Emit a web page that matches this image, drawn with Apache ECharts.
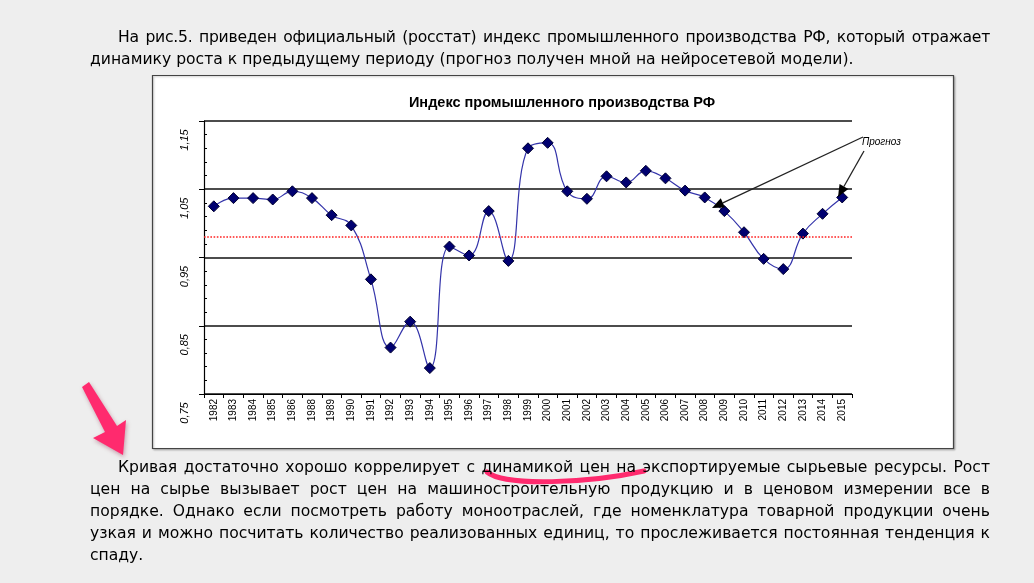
<!DOCTYPE html>
<html>
<head>
<meta charset="utf-8">
<script src="https://cdn.jsdelivr.net/npm/echarts@6/dist/echarts.min.js"></script>
<style>
html, body { margin: 0; padding: 0; background: #eeeeee; }
#page { position: relative; width: 1034px; height: 583px; overflow: hidden; }
#chart { position: absolute; left: 0; top: 0; width: 1034px; height: 583px; }
.ln { position: absolute; left: 90px; width: 900px; height: 22px; line-height: 22px;
      font-family: "DejaVu Sans", sans-serif; font-size: 15.6px; color: #000; white-space: nowrap; }
.j { text-align: justify; text-align-last: justify; }
.ind { left: 118px; width: 872px; }
</style>
</head>
<body>
<div id="page">
	<div id="chart"></div>

	<div class="ln j ind" style="top:26px; letter-spacing:-0.25px">На рис.5. приведен официальный (росстат) индекс промышленного производства РФ, который отражает</div>
	<div class="ln" style="top:48px">динамику роста к предыдущему периоду (прогноз получен мной на нейросетевой модели).</div>

	<div class="ln j ind" style="top:456px">Кривая достаточно хорошо коррелирует с динамикой цен на экспортируемые сырьевые ресурсы. Рост</div>
	<div class="ln j" style="top:478px">цен на сырье вызывает рост цен на машиностроительную продукцию и в ценовом измерении все в</div>
	<div class="ln j" style="top:500px">порядке. Однако если посмотреть работу моноотраслей, где номенклатура товарной продукции очень</div>
	<div class="ln j" style="top:522px">узкая и можно посчитать количество реализованных единиц, то прослеживается постоянная тенденция к</div>
	<div class="ln" style="top:544px">спаду.</div>
</div>

<script>
// годы (подписи оси X как на рисунке)
var years = ['1982', '1983', '1984', '1985', '1986', '1988', '1989', '1990', '1991', '1992', '1993',
	'1994', '1995', '1996', '1997', '1998', '1999', '2000', '2001', '2002', '2003', '2004', '2005',
	'2006', '2007', '2008', '2009', '2010', '2011', '2012', '2013', '2014', '2015'];

// индекс промышленного производства к предыдущему году
var index = [1.025, 1.037, 1.037, 1.035, 1.047, 1.037, 1.012, 0.997, 0.918, 0.818, 0.856,
	0.788, 0.966, 0.953, 1.018, 0.945, 1.110, 1.118, 1.047, 1.036, 1.069, 1.060, 1.077,
	1.066, 1.048, 1.038, 1.018, 0.987, 0.948, 0.933, 0.985, 1.014, 1.038];

// красная пунктирная линия (средний уровень)
var avgLevel = [0.978];

// шкала Y
var yMin = 0.75, yMax = 1.15, yStep = 0.1;

function arrow(x1, y1, x2, y2) {
	var dx = x2 - x1, dy = y2 - y1, l = Math.sqrt(dx * dx + dy * dy);
	var ux = dx / l, uy = dy / l, hl = 12, hw = 5;
	var bx = x2 - ux * hl, by = y2 - uy * hl;
	return [
		{type: 'line', z: 50, shape: {x1: x1, y1: y1, x2: bx, y2: by}, style: {stroke: '#222', lineWidth: 1.3}},
		{type: 'polygon', z: 50, shape: {points: [[x2, y2], [bx - uy * hw, by + ux * hw], [bx + uy * hw, by - ux * hw]]},
			style: {fill: '#000'}}
	];
}

var chart = echarts.init(document.getElementById('chart'));

var graphics = [
	{type: 'rect', z: -10, shape: {x: 152.5, y: 75.5, width: 801, height: 373},
		style: {fill: '#fff', stroke: '#444', lineWidth: 1.2, shadowColor: 'rgba(0,0,0,0.25)', shadowBlur: 2, shadowOffsetX: 1, shadowOffsetY: 1}},
	{type: 'text', z: 50, x: 862, y: 137, style: {text: 'Прогноз', fontFamily: 'Liberation Sans', fontStyle: 'italic', fontSize: 10, fill: '#000'}},
	// розовая стрелка слева
	{type: 'polygon', z: 50, shape: {points: [[82, 387], [89, 382], [117, 426], [126, 420], [123, 455], [93, 438], [105, 432]]},
		style: {fill: '#ff2a6e', shadowColor: 'rgba(120,0,40,0.35)', shadowBlur: 4, shadowOffsetX: 1, shadowOffsetY: 2}},
	// розовое подчеркивание
	{type: 'bezierCurve', z: 50, shape: {x1: 487, y1: 472, cpx1: 505, cpy1: 487, cpx2: 590, cpy2: 483, x2: 644, y2: 471},
		style: {stroke: '#ff2a6e', lineWidth: 5, lineCap: 'round', fill: null}}
].concat(arrow(863, 137, 712, 208), arrow(864, 151, 838, 197));

var option = {
	animation: false,
	backgroundColor: 'transparent',
	title: {
		text: 'Индекс промышленного производства РФ',
		left: 557,
		top: 90,
		textAlign: 'center',
		textStyle: {fontFamily: 'Liberation Sans', fontWeight: 'bold', fontSize: 14.5, color: '#000'}
	},
	grid: {left: 204, top: 121, right: 182, bottom: 189, containLabel: false},
	xAxis: {
		type: 'category',
		data: years,
		boundaryGap: true,
		axisLine: {lineStyle: {color: '#000', width: 1.2}},
		axisTick: {show: true, length: 4, lineStyle: {color: '#000'}},
		axisLabel: {interval: 0, rotate: 90, margin: 5, fontFamily: 'Liberation Sans', fontSize: 10, color: '#000'}
	},
	yAxis: {
		type: 'value',
		min: yMin,
		max: yMax,
		interval: yStep,
		axisLine: {show: true, lineStyle: {color: '#000', width: 1.2}},
		axisTick: {show: true, length: 5, lineStyle: {color: '#000'}},
		minorTick: {show: true, splitNumber: 5, length: -3, lineStyle: {color: '#000'}},
		splitLine: {show: true, lineStyle: {color: '#111', width: 1.6}},
		axisLabel: {
			rotate: 90,
			margin: 14,
			padding: [0, 38, 0, 0],
			fontFamily: 'Liberation Sans',
			fontStyle: 'italic',
			fontSize: 11,
			color: '#000',
			formatter: function (v) { return v.toFixed(2).replace('.', ','); }
		}
	},
	series: [{
		type: 'line',
		data: index,
		smooth: 0.45,
		symbol: 'diamond',
		symbolSize: 11,
		lineStyle: {color: '#3434aa', width: 1.2},
		itemStyle: {color: '#000070', borderColor: '#000030', borderWidth: 1},
		markLine: {
			silent: true,
			symbol: 'none',
			label: {show: false},
			lineStyle: {color: '#ff2020', type: 'dotted', width: 1.6},
			data: avgLevel.map(function (v) { return {yAxis: v}; })
		}
	}],
	graphic: graphics
};

chart.setOption(option);
</script>
</body>
</html>
